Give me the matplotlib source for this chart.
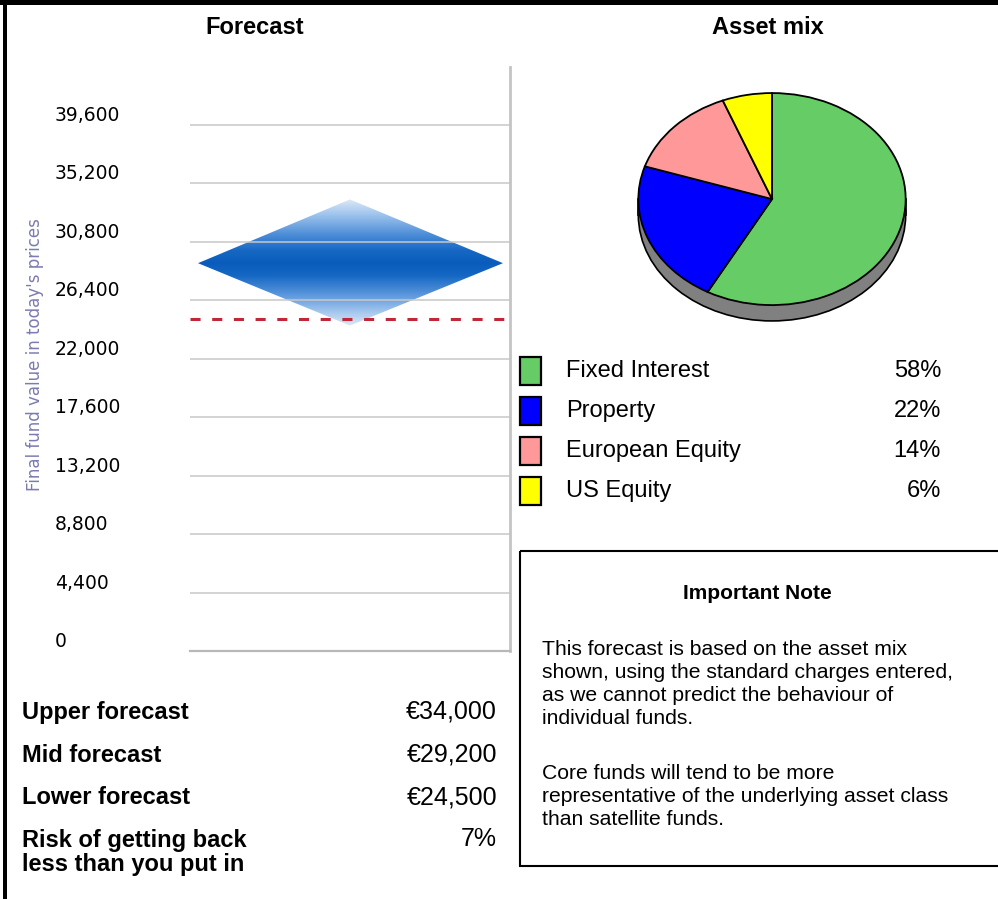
import numpy as np
import matplotlib
matplotlib.use('Agg')
import matplotlib.pyplot as plt
from matplotlib import font_manager
from matplotlib.patches import Polygon, Rectangle, Ellipse
from matplotlib.colors import LinearSegmentedColormap

# forecast values (EUR)
upper = 34000
mid = 29200
lower = 24500
invested = 25000
risk = 7
y_ticks = [0, 4400, 8800, 13200, 17600, 22000, 26400, 30800, 35200, 39600]

# asset mix
assets = ['Fixed Interest', 'Property', 'European Equity', 'US Equity']
shares = [58, 22, 14, 6]
asset_colors = ['#66cc66', '#0000ff', '#ff9999', '#ffff00']

summary_labels = ['Upper forecast', 'Mid forecast', 'Lower forecast',
                  'Risk of getting back\nless than you put in']
summary_values = ['€{:,}'.format(upper), '€{:,}'.format(mid),
                  '€{:,}'.format(lower), '{}%'.format(risk)]

note_title = 'Important Note'
note_paras = ['This forecast is based on the asset mix\n'
              'shown, using the standard charges entered,\n'
              'as we cannot predict the behaviour of\n'
              'individual funds.',
              'Core funds will tend to be more\n'
              'representative of the underlying asset class\n'
              'than satellite funds.']

W, H = 998, 899
names = {f.name for f in font_manager.fontManager.ttflist}
sans = 'Liberation Sans' if 'Liberation Sans' in names else 'DejaVu Sans'
plt.rcParams['font.family'] = sans

fig = plt.figure(figsize=(W / 100, H / 100), dpi=100)


def px_axes(x0, y0, x1, y1):
    # axes placed with pixel coords measured from the top-left corner
    return fig.add_axes([x0 / W, 1 - y1 / H, (x1 - x0) / W, (y1 - y0) / H])


bg = fig.add_axes([0, 0, 1, 1])
bg.set_xlim(0, W)
bg.set_ylim(H, 0)
bg.axis('off')

# frame
bg.add_patch(Rectangle((0, 0), W, 5, fc='black', ec='none'))
bg.add_patch(Rectangle((3, 0), 4, H, fc='black', ec='none'))

bg.text(255, 34, 'Forecast', ha='center', va='baseline', fontsize=17, fontweight='bold')
bg.text(768, 34, 'Asset mix', ha='center', va='baseline', fontsize=17, fontweight='bold')

# ---- forecast chart
ax = px_axes(190, 66.6, 510, 651)
ax.set_xlim(0, 1)
ax.set_ylim(0, 44000)

cmap = LinearSegmentedColormap.from_list('fc', [
    (0.0, '#0a5cbc'), (0.2, '#1668c4'), (0.45, '#4e8ed8'),
    (0.75, '#9cc2ec'), (1.0, '#dde9f7')])
yy = np.linspace(lower, upper, 300)
t = np.where(yy >= mid, (yy - mid) / (upper - mid), (mid - yy) / (mid - lower))
img = ax.imshow(t[:, None], cmap=cmap, vmin=0, vmax=1, origin='lower', aspect='auto',
                extent=(0.025, 0.978, lower, upper), interpolation='bilinear', zorder=0.4)
diamond = Polygon([(0.025, mid), (0.5, upper), (0.978, mid), (0.5, lower)],
                  closed=True, fc='none', ec='none', transform=ax.transData)
ax.add_patch(diamond)
img.set_clip_path(diamond)

ax.axhline(invested, color='#c0283a', lw=2.2, dashes=(3.3, 3.8), zorder=3)

ax.set_yticks(y_ticks, labels=['{:,}'.format(v) for v in y_ticks])
ax.tick_params(axis='y', length=0, pad=135 * 0.72, labelsize=13.5)
for lab in ax.get_yticklabels():
    lab.set_ha('left')
    lab.set_va('bottom')
    lab.set_family('DejaVu Sans')
ax.set_xticks([])
ax.yaxis.grid(True, color='#c8c8c8', lw=1.1)
ax.set_axisbelow(True)
for s in ['top', 'left']:
    ax.spines[s].set_visible(False)
ax.spines['right'].set_color('#c4c4c4')
ax.spines['right'].set_linewidth(2)
ax.spines['bottom'].set_color('#b8b8b8')
ax.spines['bottom'].set_linewidth(1.6)
ax.set_ylabel("Final fund value in today's prices", color='#7b7bb0', fontsize=12,
              va='center', family='DejaVu Sans')
ax.yaxis.set_label_coords((35 - 190) / 320, (651 - 355) / 584.4)

# ---- pie
depth = 16 / 107
pax = px_axes(637, 92, 907, 322)
pax.add_patch(Ellipse((0, -depth), 2, 2, fc='#808080', ec='black', lw=1.2, zorder=1))
pax.add_patch(Rectangle((-1, -depth), 2, depth, fc='#808080', ec='none', zorder=1.1))
pax.plot([-1, -1], [-depth, 0], color='black', lw=1.2, zorder=1.2)
pax.plot([1, 1], [-depth, 0], color='black', lw=1.2, zorder=1.2)
pax.pie(shares, colors=asset_colors, startangle=90, counterclock=False,
        wedgeprops=dict(edgecolor='black', linewidth=1.3, zorder=2))
pax.set_aspect('auto')
pax.set_xlim(-1.01, 1.01)
pax.set_ylim(-1 - depth - 0.01, 1.01)
pax.axis('off')

# legend
for i, (name, val, col) in enumerate(zip(assets, shares, asset_colors)):
    top = 357 + 40 * i
    bg.add_patch(Rectangle((520, top), 21, 28, fc=col, ec='black', lw=1.6))
    bg.text(566, top + 20, name, ha='left', va='baseline', fontsize=17)
    bg.text(941, top + 20, '{}%'.format(val), ha='right', va='baseline', fontsize=17)

# ---- summary table
for i, (lab, val) in enumerate(zip(summary_labels, summary_values)):
    base = 719 + 42.5 * i
    for j, line in enumerate(lab.split('\n')):
        bg.text(22, base + 24 * j, line, ha='left', va='baseline', fontsize=17,
                fontweight='bold')
    bg.text(497, base, val, ha='right', va='baseline', fontsize=18)

# ---- note box
bg.add_patch(Rectangle((520, 551), 490, 315, fc='none', ec='black', lw=1.5))
bg.text(757, 599, note_title, ha='center', va='baseline', fontsize=15, fontweight='bold')
base = 655
for para in note_paras:
    for line in para.split('\n'):
        bg.text(542, base, line, ha='left', va='baseline', fontsize=15.2)
        base += 23
    base += 32

fig.savefig('out.png', dpi=100)
